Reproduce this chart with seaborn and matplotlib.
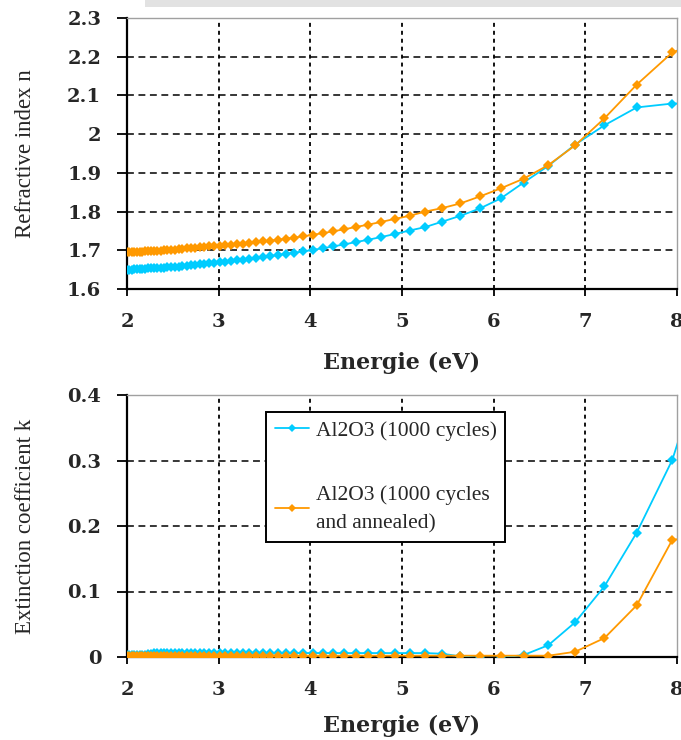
import matplotlib
matplotlib.use("Agg")
import matplotlib.pyplot as plt
import matplotlib.ticker as mticker
from matplotlib.patches import Rectangle
import seaborn as sns
import pandas as pd

# ---------------- data ----------------
energy = [2.000, 2.026, 2.053, 2.081, 2.109, 2.138, 2.168, 2.199, 2.230, 2.263,
          2.296, 2.331, 2.366, 2.403, 2.441, 2.480, 2.520, 2.562, 2.605, 2.650,
          2.696, 2.743, 2.793, 2.844, 2.897, 2.952, 3.010, 3.069, 3.131, 3.196,
          3.263, 3.333, 3.407, 3.483, 3.563, 3.647, 3.735, 3.827, 3.924, 4.026,
          4.133, 4.247, 4.366, 4.493, 4.627, 4.769, 4.921, 5.082, 5.254, 5.439,
          5.636, 5.849, 6.078, 6.327, 6.596, 6.889, 7.209, 7.561, 7.949, 8.378]

n_asdep = [1.650, 1.650, 1.650, 1.651, 1.651, 1.651, 1.652, 1.652, 1.653, 1.653,
           1.654, 1.654, 1.655, 1.655, 1.656, 1.657, 1.657, 1.658, 1.659, 1.660,
           1.661, 1.662, 1.664, 1.665, 1.666, 1.667, 1.669, 1.670, 1.672, 1.674,
           1.676, 1.678, 1.680, 1.683, 1.685, 1.688, 1.691, 1.694, 1.697, 1.701,
           1.705, 1.710, 1.715, 1.721, 1.727, 1.734, 1.742, 1.751, 1.760, 1.774,
           1.789, 1.808, 1.834, 1.875, 1.918, 1.973, 2.023, 2.069, 2.079, 2.080]

n_annealed = [1.695, 1.695, 1.695, 1.695, 1.696, 1.696, 1.696, 1.697, 1.697, 1.698,
              1.698, 1.699, 1.699, 1.700, 1.701, 1.701, 1.702, 1.703, 1.704, 1.705,
              1.706, 1.707, 1.708, 1.709, 1.710, 1.711, 1.712, 1.713, 1.714, 1.716,
              1.717, 1.719, 1.721, 1.723, 1.725, 1.727, 1.730, 1.733, 1.736, 1.740,
              1.744, 1.749, 1.754, 1.760, 1.766, 1.773, 1.781, 1.789, 1.800, 1.809,
              1.821, 1.839, 1.860, 1.885, 1.920, 1.971, 2.041, 2.128, 2.211, 2.250]

k_asdep = [0.003, 0.003, 0.003, 0.003, 0.003, 0.003, 0.003, 0.003, 0.004, 0.005,
           0.006, 0.006, 0.006, 0.006, 0.006, 0.006, 0.006, 0.006, 0.006, 0.006,
           0.006, 0.006, 0.006, 0.006, 0.006, 0.006, 0.006, 0.006, 0.006, 0.006,
           0.006, 0.006, 0.006, 0.006, 0.006, 0.006, 0.006, 0.006, 0.006, 0.006,
           0.006, 0.006, 0.006, 0.006, 0.006, 0.006, 0.006, 0.006, 0.006, 0.005,
           0.001, -0.001, -0.001, 0.003, 0.018, 0.053, 0.108, 0.190, 0.301, 0.490]

k_annealed = [0.002, 0.002, 0.002, 0.002, 0.002, 0.002, 0.002, 0.002, 0.002, 0.002,
              0.002, 0.002, 0.002, 0.002, 0.002, 0.002, 0.002, 0.002, 0.002, 0.002,
              0.002, 0.002, 0.002, 0.002, 0.002, 0.002, 0.002, 0.002, 0.002, 0.002,
              0.002, 0.002, 0.002, 0.002, 0.002, 0.002, 0.002, 0.002, 0.002, 0.002,
              0.002, 0.002, 0.002, 0.002, 0.002, 0.002, 0.002, 0.002, 0.002, 0.002,
              0.002, 0.002, 0.002, 0.002, 0.002, 0.008, 0.029, 0.079, 0.179, 0.185]

series_names = ["Al2O3 (1000 cycles)", "Al2O3 (1000 cycles\nand annealed)"]
series_colors = ["#00CCFF", "#FF9900"]

x_ticks = [2, 3, 4, 5, 6, 7, 8]
n_ticks = [1.6, 1.7, 1.8, 1.9, 2.0, 2.1, 2.2, 2.3]
k_ticks = [0.0, 0.1, 0.2, 0.3, 0.4]

x_label = "Energie (eV)"
n_label = "Refractive index n"
k_label = "Extinction coefficient k"

# ---------------- tables ----------------
df = pd.concat([
    pd.DataFrame({"E": energy, "n": n_asdep, "k": k_asdep, "series": series_names[0]}),
    pd.DataFrame({"E": energy, "n": n_annealed, "k": k_annealed, "series": series_names[1]}),
], ignore_index=True)

# ---------------- style ----------------
sns.set_style("white")
plt.rcParams["font.family"] = ["DejaVu Serif"]
plt.rcParams["axes.unicode_minus"] = False

W, H = 681, 740
fig = plt.figure(figsize=(W / 100, H / 100), dpi=100)
fig.patch.set_facecolor("white")

# faint background strip at top
fig.patches.append(Rectangle((145 / W, 1 - 7 / H), (W - 145) / W, 7 / H,
                             transform=fig.transFigure, facecolor="#e2e2e2",
                             edgecolor="none", zorder=0))

L, R = 127, 677
ax1 = fig.add_axes([L / W, 1 - 289 / H, (R - L) / W, (289 - 18) / H])
ax2 = fig.add_axes([L / W, 1 - 657 / H, (R - L) / W, (657 - 395) / H])

palette = dict(zip(series_names, series_colors))


def style_axis(ax, yticks, ylim, ylabel):
    ax.set_xlim(2, 8)
    ax.set_ylim(*ylim)
    ax.set_xticks(x_ticks)
    ax.set_yticks(yticks)
    ax.yaxis.set_major_formatter(mticker.FuncFormatter(lambda v, p: "%g" % round(v, 3)))
    ax.xaxis.set_major_formatter(mticker.FuncFormatter(lambda v, p: "%g" % v))
    for lab in ax.get_xticklabels() + ax.get_yticklabels():
        lab.set_fontweight("bold")
        lab.set_fontsize(14)
        lab.set_family("DejaVu Serif")
    ax.tick_params(axis="y", direction="out", length=7.5, width=1.3, pad=11,
                   color="black", left=True)
    ax.tick_params(axis="x", direction="out", length=5, width=1.3, pad=12,
                   color="black", bottom=True)
    for s in ["left", "bottom"]:
        ax.spines[s].set_color("black")
        ax.spines[s].set_linewidth(1.6)
    for s in ["top", "right"]:
        ax.spines[s].set_color("#a0a0a0")
        ax.spines[s].set_linewidth(1.0)
    # interior grid lines
    for xv in x_ticks[1:-1]:
        ax.axvline(xv, color="black", lw=1.3, linestyle=(0, (2.2, 2.2)), zorder=0.5)
    for yv in yticks[1:-1]:
        ax.axhline(yv, color="black", lw=1.1, linestyle=(0, (4.5, 3.0)), zorder=0.5)
    ax.set_xlabel(x_label, fontsize=16, fontweight="bold", family="DejaVu Serif")
    ax.set_ylabel(ylabel, fontsize=16.5, family="Liberation Serif")
    ax.yaxis.set_label_coords(-0.165, 0.5)


sns.lineplot(data=df, x="E", y="n", hue="series", palette=palette,
             hue_order=series_names, marker="D", markersize=5, markeredgewidth=0,
             linewidth=1.3, sort=False, legend=False, ax=ax1, zorder=3)
style_axis(ax1, n_ticks, (1.6, 2.3), n_label)
ax1.xaxis.set_label_coords(0.5, -0.232)

sns.lineplot(data=df, x="E", y="k", hue="series", palette=palette,
             hue_order=series_names, marker="D", markersize=5, markeredgewidth=0,
             linewidth=1.3, sort=False, legend=True, ax=ax2, zorder=3)
style_axis(ax2, k_ticks, (0.0, 0.4), k_label)
ax2.xaxis.set_label_coords(0.5, -0.222)

handles, labels = ax2.get_legend_handles_labels()
leg = ax2.legend(handles, labels, loc="upper left",
                 bbox_to_anchor=(0.253, 0.935), borderaxespad=0,
                 prop={"family": "Liberation Serif", "size": 15.5},
                 frameon=True, fancybox=False, shadow=False,
                 edgecolor="black", framealpha=1, borderpad=0.4,
                 labelspacing=2.05, handlelength=1.6, handletextpad=0.3)
leg.get_frame().set_linewidth(1.4)
for t in leg.get_texts():
    t.set_linespacing(1.65)
for h in leg.legend_handles:
    h.set_marker("D")
    h.set_markersize(4)
    h.set_markeredgewidth(0)
    h.set_linewidth(1.3)

fig.savefig("out.png", dpi=100)
